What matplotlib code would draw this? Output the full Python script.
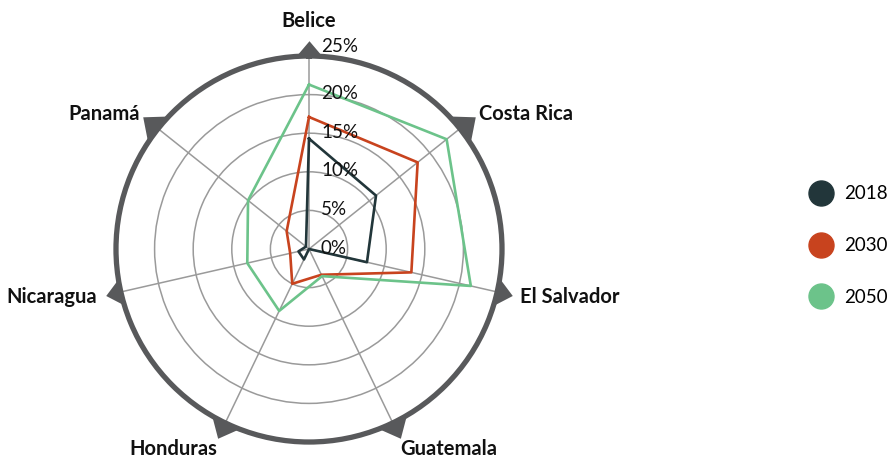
import numpy as np
import matplotlib.pyplot as plt
from matplotlib.lines import Line2D
from matplotlib.transforms import offset_copy

plt.rcParams['font.family'] = ['Lato', 'DejaVu Sans']

# datos (porcentaje)
paises = ["Belice", "Costa Rica", "El Salvador", "Guatemala", "Honduras", "Nicaragua", "Panamá"]
v2018 = [14.3, 11.1, 7.7, 0.0, 1.5, 1.4, 0.5]
v2030 = [17.1, 18.0, 13.6, 3.7, 5.0, 2.5, 3.7]
v2050 = [21.3, 22.8, 21.5, 3.9, 8.9, 8.2, 10.1]
anios = ["2018", "2030", "2050"]
colores = ["#22363a", "#c8431e", "#6cc38a"]
ticks = [0, 5, 10, 15, 20, 25]

n = len(paises)
ang = np.arange(n) * 2 * np.pi / n

fig = plt.figure(figsize=(8.95, 4.59), dpi=100)
ax = fig.add_axes([0.1296, 0.037, 0.4313, 0.841], projection="polar")
ax.set_theta_offset(np.pi / 2)
ax.set_theta_direction(-1)
ax.set_ylim(0, 25)

ax.set_xticks(ang)
ax.set_xticklabels([])
ax.set_yticks([5, 10, 15, 20])
ax.set_yticklabels([])
ax.grid(True, color="#9a9a9a", lw=1.1)
ax.spines["polar"].set_color("#58595b")
ax.spines["polar"].set_linewidth(3.8)
ax.tick_params(length=0)

for vals, c in zip([v2018, v2030, v2050], colores):
    v = list(vals) + [vals[0]]
    a = list(ang) + [ang[0]]
    ax.plot(a, v, color=c, lw=1.9, zorder=3, clip_on=False)

# triángulos en el borde
for t in ang:
    rot = -t
    base = np.array([[-0.85, 0.0], [0.85, 0.0], [0.0, 1.0], [-0.85, 0.0]])
    R = np.array([[np.cos(rot), -np.sin(rot)], [np.sin(rot), np.cos(rot)]])
    verts = base @ R.T
    ax.plot([t], [25], marker=verts, ms=22, color="#58595b", mec="none",
            clip_on=False, zorder=4)

# etiquetas de ejes radiales
for tk in ticks:
    dy = 10 if tk == 25 else 1
    tr = offset_copy(ax.transData, fig=fig, x=12, y=dy, units="dots")
    ax.text(0, tk, f"{tk}%", transform=tr, ha="left", va="center",
            fontsize=13.5, color="#111111")

# nombres de países
for t, nombre in zip(ang, paises):
    s = np.sin(t)
    c = np.cos(t)
    if abs(s) < 0.1:
        ha, va, r = "center", "bottom", 28.2
    elif c < -0.8:
        ha, va, r = ("left" if s > 0 else "right"), "top", 27.3
    else:
        ha, va, r = ("left" if s > 0 else "right"), "center", 28.1
    ax.text(t, r, nombre, ha=ha, va=va, fontsize=14.5,
            fontweight="bold", color="#111111")

handles = [Line2D([], [], marker="o", ls="", ms=18, color=c) for c in colores]
fig.legend(handles, anios, loc="center left", bbox_to_anchor=(0.878, 0.465),
           frameon=False, labelspacing=1.85, handletextpad=0.2,
           prop={"size": 13.5})

fig.savefig("out.png", dpi=100)
